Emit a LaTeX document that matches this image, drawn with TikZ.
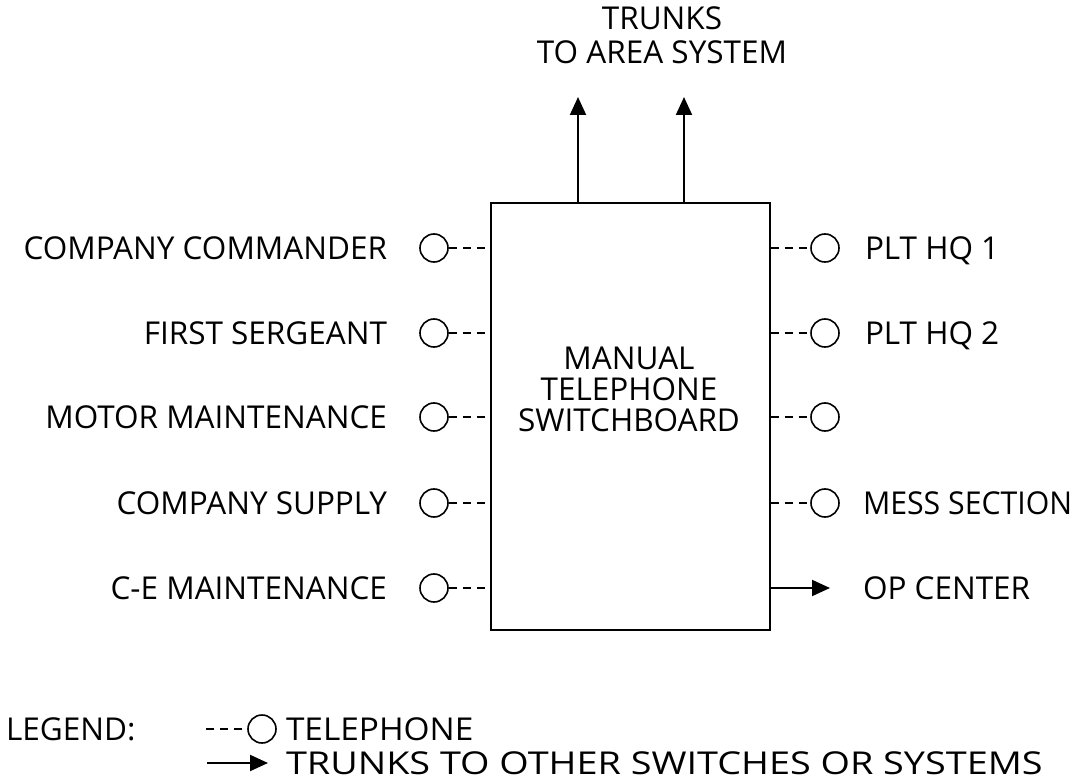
\documentclass[tikz,border=0pt]{standalone}
\usepackage{fontspec}
\setmainfont{Open Sans}
\usetikzlibrary{arrows.meta}
\begin{document}
\begin{tikzpicture}[x=1pt,y=-1pt,
  line width=2pt,
  lbl/.style={font=\fontsize{31.5}{31}\selectfont, inner sep=0pt, text height=22.5pt, text depth=0pt},
  phone/.style={circle, draw, line width=1.6pt, minimum size=28pt, inner sep=0pt},
  lead/.style={dash pattern=on 8pt off 6pt, line width=2pt},
  trunk/.style={-{Triangle[length=18pt,width=16pt]}, line width=2pt}
]
\useasboundingbox (0,0) rectangle (1080,781);
% switchboard
\node[draw, line width=2pt, minimum width=279pt, minimum height=427pt, inner sep=0pt] (box) at (630,416.5) {};
\node[lbl] (sw1) at (629,358) {MANUAL};
\node[lbl] (sw2) at (629,389) {TELEPHONE};
\node[lbl] (sw3) at (629,420) {SWITCHBOARD};
% trunks up
\node[lbl] (top1) at (662,18) {TRUNKS};
\node[lbl] (top2) at (662,52) {TO AREA SYSTEM};
\coordinate (t1) at (578,97);
\coordinate (t2) at (684,97);
\draw[trunk] (t1 |- box.north) -- (t1);
\draw[trunk] (t2 |- box.north) -- (t2);
% left telephones
\foreach \n/\y/\t in {1/248/COMPANY COMMANDER, 2/333/FIRST SERGEANT, 3/417/MOTOR MAINTENANCE, 4/503/COMPANY SUPPLY, 5/588/C-E MAINTENANCE}{
  \node[phone] (l\n) at (434,\y) {};
  \node[lbl, anchor=east] (ll\n) at (388,\y) {\t};
  \draw[lead] (l\n.east) -- (l\n.east -| box.west);
}
% right telephones
\foreach \n/\y/\t in {1/248/PLT HQ 1, 2/333/PLT HQ 2, 3/417/}{
  \node[phone] (r\n) at (825,\y) {};
  \node[lbl, anchor=west] (rl\n) at (864,\y) {\t};
  \draw[lead] (r\n.west -| box.east) -- (r\n.west);
}
\node[phone] (r4) at (825,503) {};
\node[lbl, anchor=west] (rl4) at (862,503) {\scalebox{0.96}[1]{MESS SECTION}};
\draw[lead] (r4.west -| box.east) -- (r4.west);
% op center trunk
\coordinate (op) at (830,588);
\node[lbl, anchor=west] (opl) at (862,588) {OP CENTER};
\draw[trunk] (op -| box.east) -- (op);
% legend
\node[lbl, anchor=west] (leg) at (5,729) {LEGEND:};
\node[phone] (lc) at (262,729) {};
\coordinate (ld) at (206,729);
\draw[lead] (ld) -- (lc.west);
\node[lbl, anchor=west] (lt) at (285,729) {\scalebox{1.06}[1]{TELEPHONE}};
\coordinate (la1) at (207,763);
\coordinate (la2) at (268,763);
\draw[trunk] (la1) -- (la2);
\node[lbl, anchor=west] (lt2) at (285,763) {\scalebox{1.2}[1]{TRUNKS TO OTHER SWITCHES OR SYSTEMS}};
\end{tikzpicture}
\end{document}
